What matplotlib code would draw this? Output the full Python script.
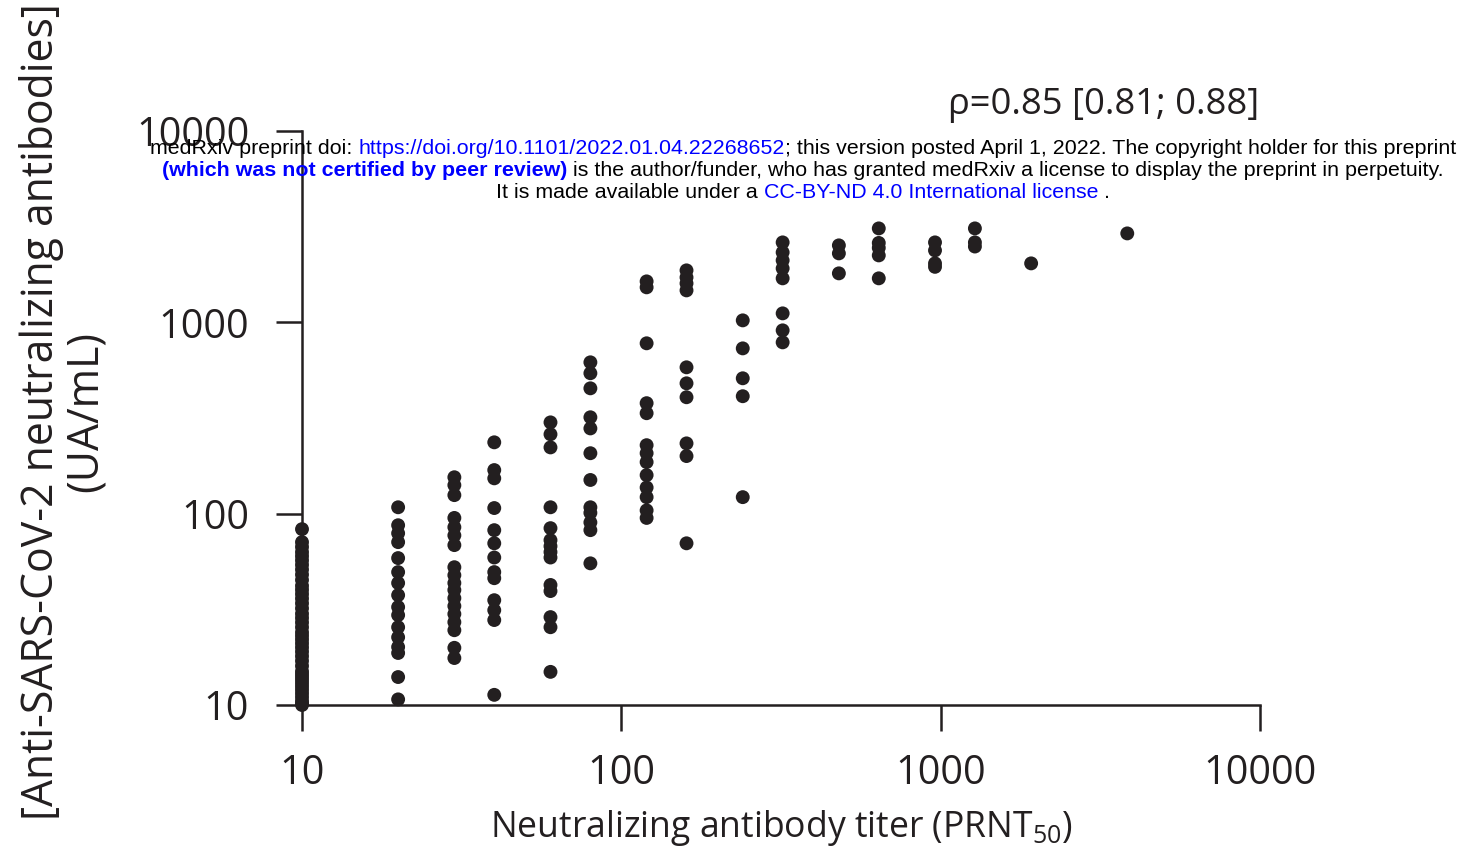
import matplotlib
matplotlib.use("Agg")
import matplotlib.pyplot as plt
import numpy as np

plt.rcParams['font.family'] = ['Open Sans', 'DejaVu Sans']
plt.rcParams['mathtext.fontset'] = 'custom'
plt.rcParams['mathtext.rm'] = 'Open Sans'

# PRNT50 titres (x) and antibody concentrations in UA/mL (y), one list per titre
titers = [10, 20, 30, 40, 60, 80, 120, 160, 240, 320, 480, 640, 960, 1280, 1920, 3840]

ua_10 = [83, 71, 67, 63, 60, 57, 54, 51, 48, 45, 42, 40, 38, 36, 34, 32, 30, 28.5,
         27, 25.5, 24, 23, 22, 21, 20, 19, 18, 17, 16, 15, 14.5, 14, 13.5, 13, 12.5,
         12, 11.5, 11, 10.5, 10.2, 10]
ua_20 = [108, 87, 79, 71, 58.6, 49.5, 43.4, 37.5, 32.5, 29.5, 25.5, 22.6, 20.1, 18.7, 14, 10.7]
ua_30 = [155, 141, 125, 95, 85, 77, 68.5, 52.5, 47.7, 43.4, 39.9, 36.2, 32.9, 29.9,
         27.1, 24.6, 19.9, 17.6]
ua_40 = [236, 169, 153, 107, 82, 70, 59, 49.5, 46, 35.3, 31.3, 27.8, 11.3]
ua_60 = [300, 260, 222, 108, 84, 72.7, 67.6, 63, 59, 42.4, 39.4, 28.8, 25.5, 14.9]
ua_80 = [618, 542, 452, 319, 279, 207, 150, 108, 101, 90, 82, 55]
ua_120 = [1637, 1524, 777, 378, 335, 228, 207, 186, 159, 137, 122, 104, 95]
ua_160 = [1869, 1718, 1598, 1469, 582, 480, 406, 233, 200, 70]
ua_240 = [1024, 731, 510, 411, 122]
ua_320 = [2617, 2321, 2108, 1914, 1698, 1114, 908, 786]
ua_480 = [2525, 2293, 1803]
ua_640 = [3097, 2600, 2450, 2238, 1698]
ua_960 = [2617, 2377, 2033, 1950]
ua_1280 = [3097, 2617, 2490]
ua_1920 = [2033]
ua_3840 = [2916]

columns = [ua_10, ua_20, ua_30, ua_40, ua_60, ua_80, ua_120, ua_160, ua_240,
           ua_320, ua_480, ua_640, ua_960, ua_1280, ua_1920, ua_3840]

xs, ys = [], []
for t, col in zip(titers, columns):
    xs += [t] * len(col)
    ys += col

ticks = [10, 100, 1000, 10000]
rho_text = "ρ=0.85 [0.81; 0.88]"

fig = plt.figure(figsize=(14.62, 8.51), dpi=100)
ax = fig.add_axes([302 / 1462, 1 - 705 / 851, (1260 - 302) / 1462, (705 - 131) / 851])

ax.scatter(xs, ys, s=100, color='#231f20', edgecolors='none', clip_on=False, zorder=5)

ax.set_xscale('log')
ax.set_yscale('log')
ax.set_xlim(10, 10000)
ax.set_ylim(10, 10000)
ax.set_xticks(ticks)
ax.set_yticks(ticks)
ax.set_xticklabels([str(t) for t in ticks])
ax.set_yticklabels([str(t) for t in ticks])
ax.minorticks_off()
for s in ['top', 'right']:
    ax.spines[s].set_visible(False)
for s in ['left', 'bottom']:
    ax.spines[s].set_linewidth(1.8)
    ax.spines[s].set_color('#231f20')
ax.tick_params(axis='both', which='major', length=19, width=1.8, color='#231f20',
               labelsize=28.5, labelcolor='#231f20')
ax.tick_params(axis='y', pad=19)
ax.tick_params(axis='x', pad=16)

ax.set_xlabel(r"Neutralizing antibody titer (PRNT$_{50}$)", fontsize=25.6, color='#231f20',
              labelpad=10)
fig.text(63 / 1462, 0.516, "[Anti-SARS-CoV-2 neutralizing antibodies]\n(UA/mL)", rotation=90,
         ha='center', va='center', fontsize=30.8, color='#231f20', multialignment='center',
         linespacing=0.98)

fig.text(1104 / 1462, 1 - 105 / 851, rho_text, ha='center', va='center', fontsize=26.2,
         color='#231f20')

# medRxiv watermark, drawn piece by piece so the colours can differ
wm_lines = [
    [("medRxiv preprint doi: ", 'black', 'normal'),
     ("https://doi.org/10.1101/2022.01.04.22268652", 'blue', 'normal'),
     ("; this version posted April 1, 2022. The copyright holder for this preprint", 'black', 'normal')],
    [("(which was not certified by peer review)", 'blue', 'bold'),
     (" is the author/funder, who has granted medRxiv a license to display the preprint in perpetuity.", 'black', 'normal')],
    [("It is made available under a ", 'black', 'normal'),
     ("CC-BY-ND 4.0 International license", 'blue', 'normal'),
     (" .", 'black', 'normal')],
]
wm_y = [149, 171, 192]
renderer = fig.canvas.get_renderer()
for parts, yp in zip(wm_lines, wm_y):
    texts = []
    for s, c, w in parts:
        t = fig.text(0, 1 - yp / 851, s, color=c, fontweight=w, fontsize=15.4,
                     family='Liberation Sans', ha='left', va='center', zorder=10)
        texts.append(t)
    widths = [t.get_window_extent(renderer).width for t in texts]
    x0 = 803 - sum(widths) / 2
    for t, w in zip(texts, widths):
        t.set_x(x0 / 1462)
        x0 += w

fig.savefig("out.png", dpi=100)
